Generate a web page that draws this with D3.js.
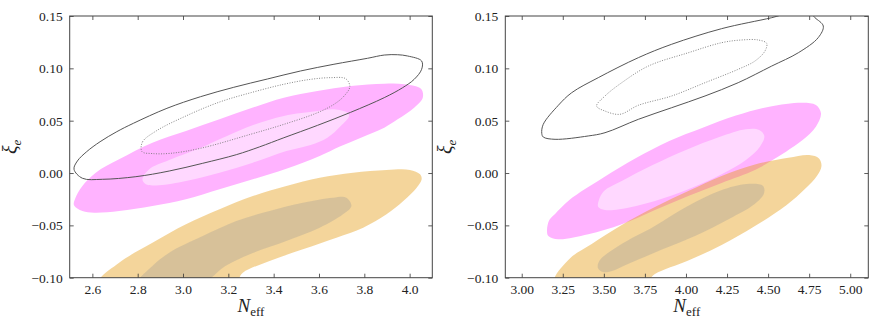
<!DOCTYPE html>
<html><head><meta charset="utf-8">
<script src="https://cdn.jsdelivr.net/npm/d3@7"></script>
<style>
body{margin:0;background:#fff;}
svg text{font-family:"Liberation Serif","DejaVu Serif",serif;fill:#222;}
</style></head>
<body><svg id="c" width="872" height="327"></svg>
<script>
// ---- data ----
const yTicks = [-0.10, -0.05, 0.00, 0.05, 0.10, 0.15];
const xTicksLeft = [2.6, 2.8, 3.0, 3.2, 3.4, 3.6, 3.8, 4.0];
const xTicksRight = [3.00, 3.25, 3.50, 3.75, 4.00, 4.25, 4.50, 4.75, 5.00];
const xDomainLeft = [2.5, 4.1];
const xDomainRight = [2.9, 5.11];
const yDomain = [-0.10, 0.15];

const leftGreyOuter = [[2.519,0.0036],[2.556,-0.0050],[2.644,-0.0060],[2.792,-0.0035],[2.939,0.0019],[3.087,0.0093],[3.235,0.0175],[3.338,0.0250],[3.445,0.0337],[3.593,0.0455],[3.740,0.0580],[3.888,0.0720],[3.969,0.0815],[4.020,0.0895],[4.053,0.0991],[4.053,0.1070],[3.991,0.1118],[3.947,0.1130],[3.888,0.1127],[3.814,0.1096],[3.666,0.1039],[3.519,0.0975],[3.372,0.0898],[3.224,0.0819],[3.077,0.0729],[2.929,0.0618],[2.781,0.0475],[2.708,0.0395],[2.634,0.0299],[2.575,0.0204],[2.534,0.0115]];
const leftGreyInner = [[2.819,0.0204],[2.821,0.0296],[2.881,0.0401],[3.013,0.0545],[3.161,0.0678],[3.302,0.0769],[3.445,0.0848],[3.563,0.0895],[3.652,0.0911],[3.718,0.0901],[3.736,0.0825],[3.711,0.0736],[3.666,0.0656],[3.593,0.0576],[3.445,0.0465],[3.298,0.0370],[3.077,0.0236],[2.944,0.0188],[2.864,0.0186]];
const leftPinkOuter = [[2.519,-0.0308],[2.556,-0.0363],[2.608,-0.0379],[2.718,-0.0363],[2.865,-0.0315],[3.013,-0.0251],[3.161,-0.0156],[3.308,-0.0060],[3.456,0.0041],[3.603,0.0163],[3.692,0.0253],[3.785,0.0337],[3.888,0.0433],[3.947,0.0513],[4.020,0.0624],[4.058,0.0720],[4.050,0.0805],[3.976,0.0848],[3.888,0.0853],[3.740,0.0831],[3.593,0.0784],[3.445,0.0720],[3.302,0.0621],[3.161,0.0513],[3.013,0.0401],[2.865,0.0290],[2.718,0.0131],[2.615,0.0003],[2.556,-0.0124],[2.523,-0.0251]];
const leftPinkInner = [[2.821,-0.0060],[2.836,-0.0108],[2.895,-0.0117],[3.013,-0.0076],[3.161,0.0003],[3.308,0.0099],[3.456,0.0210],[3.563,0.0268],[3.637,0.0337],[3.696,0.0449],[3.733,0.0545],[3.726,0.0576],[3.666,0.0609],[3.593,0.0592],[3.445,0.0545],[3.298,0.0449],[3.161,0.0322],[3.087,0.0249],[2.939,0.0124],[2.851,0.0036]];
const leftOrangeOuter = [[2.630,-0.104],[2.718,-0.0857],[2.865,-0.0666],[3.013,-0.0490],[3.161,-0.0347],[3.308,-0.0220],[3.456,-0.0124],[3.603,-0.0045],[3.750,0.0003],[3.898,0.0029],[4.001,0.0029],[4.046,-0.0012],[4.053,-0.0060],[4.031,-0.0140],[3.972,-0.0267],[3.898,-0.0394],[3.795,-0.0522],[3.677,-0.0618],[3.529,-0.0729],[3.382,-0.0840],[3.264,-0.0952],[3.230,-0.104]];
const leftOrangeInner = [[2.805,-0.104],[2.865,-0.0888],[2.939,-0.0761],[3.087,-0.0602],[3.235,-0.0458],[3.382,-0.0363],[3.529,-0.0284],[3.662,-0.0236],[3.721,-0.0236],[3.743,-0.0315],[3.706,-0.0394],[3.603,-0.0522],[3.456,-0.0649],[3.308,-0.0764],[3.187,-0.0888],[3.090,-0.104]];

const rightGreyOuter = [[3.122,0.0379],[3.131,0.0465],[3.223,0.0647],[3.304,0.0767],[3.466,0.0911],[3.710,0.1102],[3.913,0.1230],[4.217,0.1379],[4.522,0.1484],[4.633,0.1529],[4.755,0.1529],[4.785,0.1484],[4.836,0.1404],[4.805,0.1293],[4.684,0.1149],[4.522,0.1022],[4.318,0.0863],[4.116,0.0736],[3.913,0.0624],[3.710,0.0513],[3.507,0.0385],[3.405,0.0354],[3.203,0.0322],[3.131,0.0344]];
const rightGreyInner = [[3.456,0.0640],[3.507,0.0736],[3.609,0.0863],[3.771,0.1022],[4.014,0.1149],[4.217,0.1245],[4.339,0.1271],[4.440,0.1271],[4.491,0.1239],[4.481,0.1166],[4.420,0.1070],[4.318,0.0991],[4.116,0.0863],[3.913,0.0736],[3.710,0.0647],[3.598,0.0561],[3.507,0.0592]];
const rightPinkOuter = [[3.154,-0.0544],[3.168,-0.0449],[3.203,-0.0391],[3.290,-0.0258],[3.493,-0.0048],[3.696,0.0143],[3.898,0.0306],[4.102,0.0433],[4.304,0.0549],[4.507,0.0634],[4.710,0.0672],[4.791,0.0650],[4.822,0.0570],[4.791,0.0442],[4.710,0.0315],[4.609,0.0204],[4.507,0.0105],[4.420,0.0029],[4.217,-0.0095],[4.014,-0.0220],[3.811,-0.0353],[3.609,-0.0490],[3.405,-0.0585],[3.223,-0.0633],[3.162,-0.0602]];
const rightPinkInner = [[3.466,-0.0325],[3.470,-0.0258],[3.501,-0.0172],[3.609,-0.0076],[3.797,0.0076],[4.000,0.0220],[4.203,0.0344],[4.365,0.0418],[4.446,0.0411],[4.477,0.0354],[4.450,0.0251],[4.365,0.0124],[4.217,-0.0012],[4.014,-0.0156],[3.811,-0.0267],[3.594,-0.0347],[3.507,-0.0353]];
const rightOrangeOuter = [[3.200,-0.104],[3.290,-0.0821],[3.426,-0.0678],[3.609,-0.0497],[3.811,-0.0325],[4.014,-0.0172],[4.217,-0.0028],[4.420,0.0081],[4.623,0.0146],[4.750,0.0172],[4.810,0.0139],[4.825,0.0067],[4.797,-0.0028],[4.724,-0.0153],[4.609,-0.0310],[4.420,-0.0506],[4.217,-0.0688],[4.014,-0.0836],[3.811,-0.0965],[3.755,-0.104]];
const rightOrangeInner = [[3.464,-0.0907],[3.474,-0.0836],[3.598,-0.0688],[3.805,-0.0511],[4.006,-0.0320],[4.210,-0.0167],[4.371,-0.0105],[4.469,-0.0124],[4.475,-0.0196],[4.414,-0.0301],[4.262,-0.0439],[4.055,-0.0602],[3.854,-0.0731],[3.647,-0.0869],[3.550,-0.0936],[3.495,-0.0946]];

// ---- drawing ----
const svg = d3.select("#c");
const H = {top:16, bottom:277.7};
const FONT = "'Liberation Serif','DejaVu Serif',serif";

function fmtY(v){ const s = Math.abs(v).toFixed(2); return (v < -1e-9 ? "\u2212" : "") + s; }

function panel(id, left, right, xDomain, xTicks, xDec, sets){
  const x = d3.scaleLinear().domain(xDomain).range([left, right]);
  const y = d3.scaleLinear().domain(yDomain).range([H.bottom, H.top]);
  const g = svg.append("g");
  svg.append("clipPath").attr("id","clip"+id).append("rect")
    .attr("x",left).attr("y",H.top).attr("width",right-left).attr("height",H.bottom-H.top);
  const pg = g.append("g").attr("clip-path","url(#clip"+id+")");
  const smooth = d3.line().x(d=>x(d[0])).y(d=>y(d[1])).curve(d3.curveCatmullRomClosed.alpha(0.5));
  pg.append("path").attr("d",smooth(sets.pinkOuter)).attr("fill","#ffb3ff");
  pg.append("path").attr("d",smooth(sets.pinkInner)).attr("fill","#ffd8ff");
  pg.append("path").attr("d",smooth(sets.orangeOuter)).attr("fill","rgba(229,155,17,0.42)");
  pg.append("path").attr("d",smooth(sets.orangeInner)).attr("fill","rgba(150,150,150,0.30)");
  pg.append("path").attr("d",smooth(sets.greyOuter)).attr("fill","none").attr("stroke","#555").attr("stroke-width",1).attr("stroke-linejoin","round");
  pg.append("path").attr("d",smooth(sets.greyInner)).attr("fill","none").attr("stroke","#777").attr("stroke-width",0.9).attr("stroke-dasharray","1,1.5");

  // axes
  const ax = g.append("g");
  const bottom = ax.append("g").attr("transform",`translate(0,${H.bottom})`)
    .call(d3.axisBottom(x).tickValues(xTicks).tickSize(-4).tickPadding(7).tickFormat(d=>d.toFixed(xDec)));
  const top = ax.append("g").attr("transform",`translate(0,${H.top})`)
    .call(d3.axisTop(x).tickValues(xTicks).tickSize(-4).tickFormat(""));
  const lft = ax.append("g").attr("transform",`translate(${left},0)`)
    .call(d3.axisLeft(y).tickValues(yTicks).tickSize(-4).tickPadding(7).tickFormat(fmtY));
  const rgt = ax.append("g").attr("transform",`translate(${right},0)`)
    .call(d3.axisRight(y).tickValues(yTicks).tickSize(-4).tickFormat(""));
  [bottom,top,lft,rgt].forEach(a=>{
    a.attr("font-family",FONT).attr("font-size",13.5);
    a.select(".domain").remove();
    a.selectAll(".tick line").attr("stroke","#333").attr("stroke-width",0.8);
    a.selectAll("text").attr("font-family",FONT).style("font-family",FONT).style("font-size","13.5px").attr("fill","#222");
  });
  bottom.selectAll("text").attr("dy","0.71em");
  g.append("rect").attr("x",left).attr("y",H.top).attr("width",right-left).attr("height",H.bottom-H.top)
    .attr("fill","none").attr("stroke","#444").attr("stroke-width",1);

  // labels
  const cx = (left+right)/2;
  const xl = g.append("text").attr("x",cx).attr("y",312).attr("text-anchor","middle").style("font-family",FONT);
  xl.append("tspan").text("N").style("font-style","italic").style("font-size","19px");
  xl.append("tspan").text("eff").style("font-size","13px").attr("dy","4");
  const yl = g.append("text").attr("transform",`translate(${left-53},${(H.top+H.bottom)/2}) rotate(-90)`).attr("text-anchor","middle").style("font-family",FONT);
  yl.append("tspan").text("\u03be").style("font-style","italic").style("font-size","20px");
  yl.append("tspan").text("e").style("font-style","italic").style("font-size","13px").attr("dy","4");
}

panel("L", 69.7, 432.3, xDomainLeft, xTicksLeft, 1, {
  pinkOuter:leftPinkOuter, pinkInner:leftPinkInner, orangeOuter:leftOrangeOuter, orangeInner:leftOrangeInner,
  greyOuter:leftGreyOuter, greyInner:leftGreyInner});
panel("R", 505.3, 868.3, xDomainRight, xTicksRight, 2, {
  pinkOuter:rightPinkOuter, pinkInner:rightPinkInner, orangeOuter:rightOrangeOuter, orangeInner:rightOrangeInner,
  greyOuter:rightGreyOuter, greyInner:rightGreyInner});
</script></body></html>
